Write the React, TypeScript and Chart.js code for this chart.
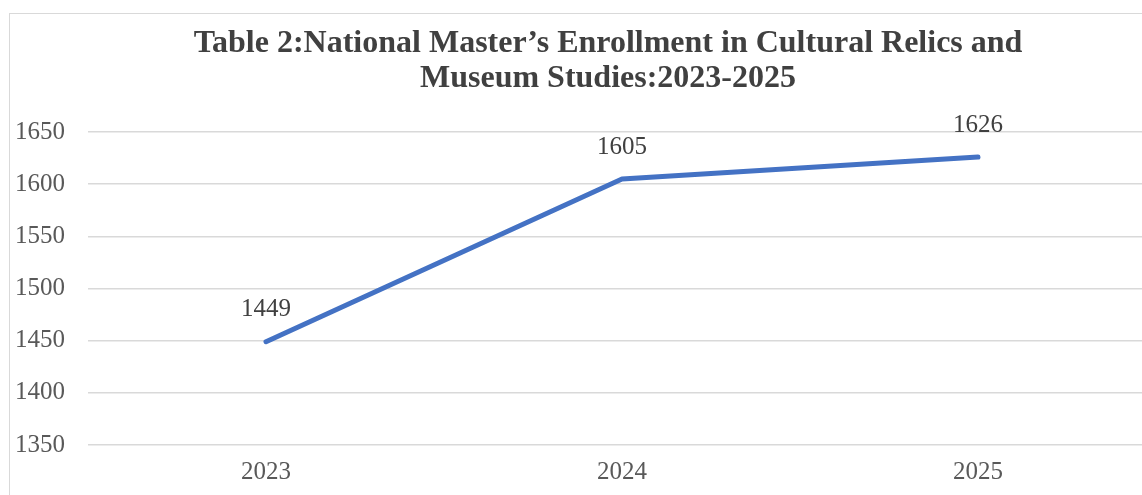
import React, { useEffect, useRef } from "react";
import { Chart, registerables } from "chart.js";

Chart.register(...registerables);

const titleLines = [
  "Table 2:National Master\u2019s Enrollment in Cultural Relics and",
  "Museum Studies:2023-2025",
];
const years = ["2023", "2024", "2025"];
const enrollment = [1449, 1605, 1626];
const yMin = 1350;
const yMax = 1650;
const yStep = 50;

const SERIF = "'Liberation Serif', 'Times New Roman', serif";

const dataLabels = {
  id: "dataLabels",
  afterDatasetsDraw(chart: any) {
    const ctx = chart.ctx;
    const meta = chart.getDatasetMeta(0);
    const ds = chart.data.datasets[0];
    ctx.save();
    ctx.font = `25px ${SERIF}`;
    ctx.fillStyle = "#404040";
    ctx.textAlign = "center";
    ctx.textBaseline = "middle";
    meta.data.forEach((pt: any, i: number) => {
      ctx.fillText(String(ds.data[i]), pt.x, pt.y - 32);
    });
    ctx.restore();
  },
};

const centeredTitle = {
  id: "centeredTitle",
  afterDraw(chart: any) {
    const ctx = chart.ctx;
    ctx.save();
    ctx.font = `bold 32px ${SERIF}`;
    ctx.fillStyle = "#404040";
    ctx.textAlign = "center";
    ctx.textBaseline = "middle";
    const cx = chart.width / 2;
    titleLines.forEach((line, i) => {
      ctx.fillText(line, cx, 30 + i * 35);
    });
    ctx.restore();
  },
};

export default function App() {
  const ref = useRef<HTMLCanvasElement | null>(null);
  useEffect(() => {
    if (!ref.current) return;
    const chart = new Chart(ref.current, {
      type: "line",
      data: {
        labels: years,
        datasets: [
          {
            data: enrollment,
            borderColor: "#4472C4",
            borderWidth: 5,
            borderCapStyle: "round",
            borderJoinStyle: "round",
            pointRadius: 0,
            pointHoverRadius: 0,
            fill: false,
            tension: 0,
          },
        ],
      },
      options: {
        responsive: false,
        animation: false,
        devicePixelRatio: 1,
        layout: { padding: { left: 0, right: 50, top: 118, bottom: 0 } },
        plugins: {
          legend: { display: false },
          tooltip: { enabled: false },
          title: { display: false },
        },
        scales: {
          x: {
            offset: true,
            grid: { display: false, drawTicks: false },
            border: { display: false },
            ticks: {
              color: "#595959",
              font: { family: SERIF, size: 25 },
              padding: 12,
            },
            afterFit(scale: any) {
              scale.height = 69;
            },
          },
          y: {
            min: yMin,
            max: yMax,
            grid: { color: "#d9d9d9", lineWidth: 1.5, drawTicks: false },
            border: { display: false },
            ticks: {
              stepSize: yStep,
              color: "#595959",
              font: { family: SERIF, size: 25 },
              padding: 23,
              callback: (v: any) => String(v),
            },
            afterFit(scale: any) {
              scale.width = 78;
            },
          },
        },
      },
      plugins: [dataLabels, centeredTitle],
    });
    return () => chart.destroy();
  }, []);

  return (
    <div
      style={{
        position: "fixed",
        left: 0,
        top: 0,
        width: 1142,
        height: 495,
        overflow: "hidden",
        background: "#ffffff",
      }}
    >
      <div
        style={{
          position: "absolute",
          left: 9,
          top: 13,
          width: 1198,
          height: 530,
          border: "1.5px solid #d9d9d9",
          boxSizing: "border-box",
        }}
      >
        <canvas
          ref={ref}
          width={1196}
          height={500}
          style={{ position: "absolute", left: 0, top: 0, display: "block" }}
        />
      </div>
    </div>
  );
}
